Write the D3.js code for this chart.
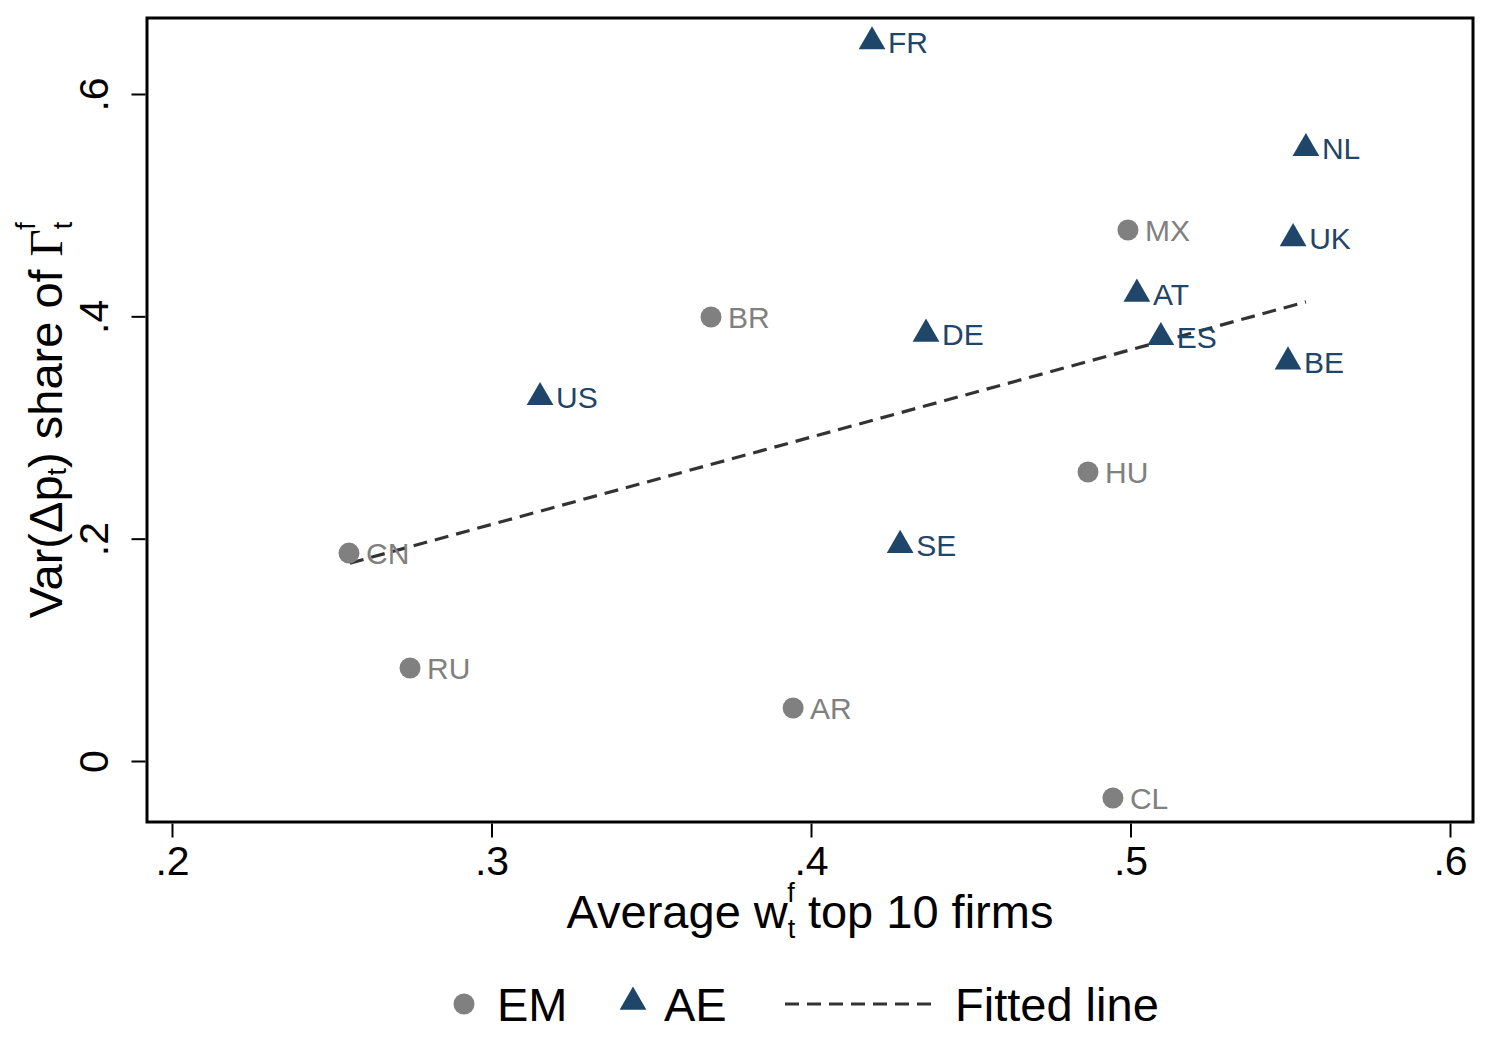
<!DOCTYPE html>
<html>
<head>
<meta charset="utf-8">
<script src="https://cdn.jsdelivr.net/npm/d3@7"></script>
<style>
  body { margin: 0; background: #fff; }
  text { font-family: "Liberation Sans", Arial, sans-serif; }
</style>
</head>
<body>
<svg id="chart"></svg>
<script>
// country codes, x = average w top 10 firms, y = Var(dp) share of Gamma
const emCodes = ['MX', 'BR', 'HU', 'CN', 'RU', 'AR', 'CL'];
const emX = [0.4992, 0.3687, 0.4867, 0.2554, 0.2745, 0.3944, 0.4945];
const emY = [0.4777, 0.3994, 0.2600, 0.1870, 0.0837, 0.0477, -0.0333];

const aeCodes = ['FR', 'NL', 'UK', 'AT', 'DE', 'ES', 'BE', 'US', 'SE'];
const aeX = [0.4191, 0.5549, 0.5509, 0.5020, 0.4360, 0.5095, 0.5493, 0.3152, 0.4279];
const aeY = [0.6480, 0.5520, 0.4710, 0.4210, 0.3850, 0.3820, 0.3600, 0.3280, 0.1950];

// fitted line end points
const fitX = [0.2557, 0.5549];
const fitY = [0.1780, 0.4130];

const xTicks = [0.2, 0.3, 0.4, 0.5, 0.6];
const yTicks = [0, 0.2, 0.4, 0.6];
const tickLabel = d => d === 0 ? '0' : d3.format('.1f')(d).replace(/^0/, '');

const width = 1492, height = 1062;
const emColor = '#808080';
const aeColor = '#1f4568';

const svg = d3.select('#chart')
    .attr('width', width)
    .attr('height', height);

const box = {left: 147, right: 1473, top: 18, bottom: 822};

const x = d3.scaleLinear()
    .domain([0.2, 0.6])
    .range([172, 1450]);
const y = d3.scaleLinear()
    .domain([0, 0.6])
    .range([761, 94]);

// fitted line
svg.append('line')
    .attr('x1', x(fitX[0]))
    .attr('y1', y(fitY[0]))
    .attr('x2', x(fitX[1]))
    .attr('y2', y(fitY[1]))
    .attr('stroke', '#333')
    .attr('stroke-width', 3.2)
    .attr('stroke-dasharray', '14,8');

const em = emCodes.map((c, i) => ({code: c, x: emX[i], y: emY[i]}));
const ae = aeCodes.map((c, i) => ({code: c, x: aeX[i], y: aeY[i]}));

svg.selectAll('.em')
    .data(em)
    .enter().append('circle')
    .attr('class', 'em')
    .attr('cx', d => x(d.x))
    .attr('cy', d => y(d.y))
    .attr('r', 10.5)
    .attr('fill', emColor);

const tri = d3.symbol().type(d3.symbolTriangle).size(310);

svg.selectAll('.ae')
    .data(ae)
    .enter().append('path')
    .attr('class', 'ae')
    .attr('d', tri)
    .attr('transform', d => `translate(${x(d.x)},${y(d.y) + 1})`)
    .attr('fill', aeColor);

svg.selectAll('.emlab')
    .data(em)
    .enter().append('text')
    .attr('x', d => x(d.x) + 17)
    .attr('y', d => y(d.y) + 11)
    .attr('font-size', 30)
    .attr('fill', emColor)
    .text(d => d.code);

svg.selectAll('.aelab')
    .data(ae)
    .enter().append('text')
    .attr('x', d => x(d.x) + 16)
    .attr('y', d => y(d.y) + 12)
    .attr('font-size', 30)
    .attr('fill', aeColor)
    .text(d => d.code);

// frame
svg.append('rect')
    .attr('x', box.left)
    .attr('y', box.top)
    .attr('width', box.right - box.left)
    .attr('height', box.bottom - box.top)
    .attr('fill', 'none')
    .attr('stroke', '#000')
    .attr('stroke-width', 3);

// x axis
const xAxis = svg.append('g')
    .attr('transform', `translate(0,${box.bottom + 1.5})`)
    .call(d3.axisBottom(x).tickValues(xTicks).tickSize(14).tickPadding(8)
        .tickFormat(tickLabel));
xAxis.select('.domain').remove();
xAxis.selectAll('line').attr('stroke-width', 2);
xAxis.selectAll('text')
    .attr('font-size', 41)
    .attr('fill', '#000')
    .attr('font-family', '"Liberation Sans", Arial, sans-serif');

// y axis
const yAxis = svg.append('g')
    .attr('transform', `translate(${box.left - 1.5},0)`)
    .call(d3.axisLeft(y).tickValues(yTicks).tickSize(14).tickFormat(tickLabel));
yAxis.select('.domain').remove();
yAxis.selectAll('line').attr('stroke-width', 2);
yAxis.selectAll('text')
    .attr('font-size', 41)
    .attr('fill', '#000')
    .attr('font-family', '"Liberation Sans", Arial, sans-serif')
    .attr('x', null)
    .attr('dy', null)
    .attr('text-anchor', 'middle')
    .attr('transform', 'translate(-38,0) rotate(-90)');

// x title
const xt = svg.append('text')
    .attr('x', 810)
    .attr('y', 928)
    .attr('text-anchor', 'middle')
    .attr('font-size', 47)
    .attr('fill', '#000');
xt.append('tspan').text('Average w');
xt.append('tspan').attr('font-size', 27).attr('dy', 10).text('t');
xt.append('tspan').attr('font-size', 27).attr('dx', -8).attr('dy', -36).text('f');
xt.append('tspan').attr('dy', 26).text(' top 10 firms');

// y title
const yt = svg.append('text')
    .attr('transform', 'translate(62,420) rotate(-90)')
    .attr('text-anchor', 'middle')
    .attr('font-size', 47)
    .attr('fill', '#000');
yt.append('tspan').text('Var(Δp');
yt.append('tspan').attr('font-size', 27).attr('dy', 4).text('t');
yt.append('tspan').attr('dy', -4).text(') share of ');
yt.append('tspan').attr('font-family', '"Liberation Serif", serif').text('Γ');
yt.append('tspan').attr('font-size', 27).attr('dy', 10).text('t');
yt.append('tspan').attr('font-size', 27).attr('dx', -8).attr('dy', -37).text('f');

// legend
const lg = svg.append('g');
lg.append('circle')
    .attr('cx', 464).attr('cy', 1004).attr('r', 10.5)
    .attr('fill', emColor);
lg.append('text')
    .attr('x', 497).attr('y', 1021)
    .attr('font-size', 47).text('EM');
lg.append('path')
    .attr('d', tri)
    .attr('transform', 'translate(633,1002)')
    .attr('fill', aeColor);
lg.append('text')
    .attr('x', 664).attr('y', 1021)
    .attr('font-size', 47).text('AE');
lg.append('line')
    .attr('x1', 785).attr('x2', 932)
    .attr('y1', 1004).attr('y2', 1004)
    .attr('stroke', '#333')
    .attr('stroke-width', 3.2)
    .attr('stroke-dasharray', '14,8');
lg.append('text')
    .attr('x', 955).attr('y', 1021)
    .attr('font-size', 47).text('Fitted line');
</script>
</body>
</html>
